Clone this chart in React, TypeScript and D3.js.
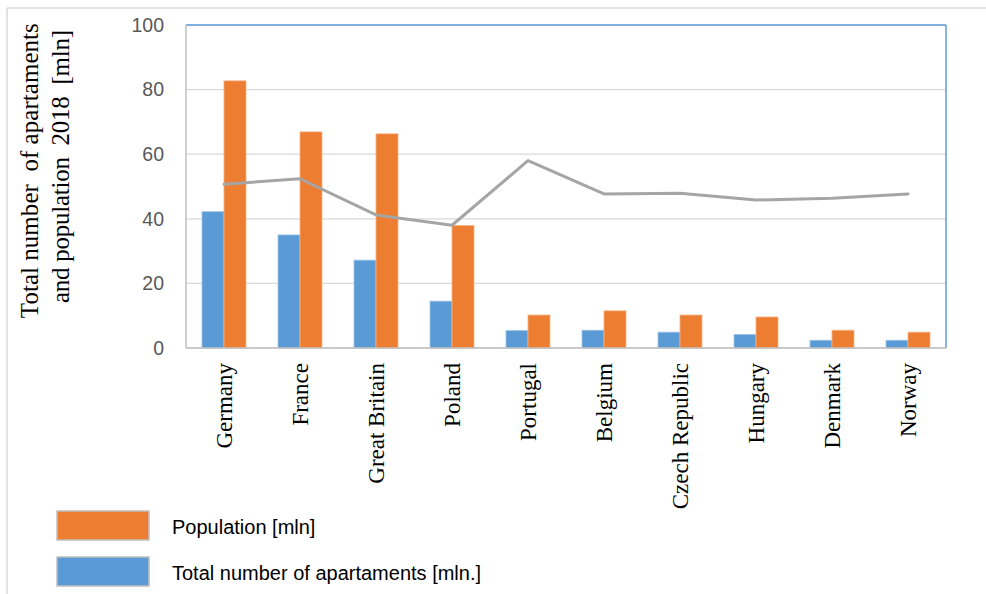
import React from "react";
import * as d3 from "d3";

const categories = ["Germany", "France", "Great Britain", "Poland", "Portugal", "Belgium", "Czech Republic", "Hungary", "Denmark", "Norway"];
const apartments = [42.2, 35.0, 27.2, 14.5, 5.4, 5.5, 4.9, 4.2, 2.4, 2.4];
const population = [82.7, 66.9, 66.3, 37.9, 10.2, 11.5, 10.2, 9.6, 5.5, 4.9];
const ratioLine = [50.7, 52.4, 41.2, 38.0, 58.0, 47.7, 47.9, 45.8, 46.4, 47.7];
const yTicks = [0, 20, 40, 60, 80, 100];
const seriesKeys = ["apartments", "population"];
const legendItems = [
  { label: "Population [mln]", color: "#ED7D31", stroke: "#BFBFBF" },
  { label: "Total number of apartaments [mln.]", color: "#5B9BD5", stroke: "#BFBFBF" },
];

const W = 986;
const H = 594;
const plot = { left: 186, right: 946, top: 25, bottom: 348 };

export default function App() {
  const x0 = d3
    .scaleBand<string>()
    .domain(categories)
    .range([plot.left, plot.right])
    .paddingInner(32 / 76)
    .paddingOuter(16 / 76);
  const x1 = d3.scaleBand<string>().domain(seriesKeys).range([0, x0.bandwidth()]);
  const y = d3.scaleLinear().domain([0, 100]).range([plot.bottom, plot.top]);
  const cx = (c: string) => (x0(c) as number) + x0.bandwidth() / 2;

  const line = d3
    .line<number>()
    .x((_, i) => cx(categories[i]))
    .y((d) => y(d));

  const serif = "'Liberation Serif', 'Times New Roman', serif";
  const sans = "'Liberation Sans', Arial, sans-serif";

  return (
    <svg width={W} height={H} style={{ position: "absolute", left: 0, top: 0, display: "block", background: "#fff" }}>
      {/* outer frame */}
      <line x1={7} y1={8} x2={W} y2={8} stroke="#D9D9D9" strokeWidth={1.5} />
      <line x1={7} y1={8} x2={7} y2={H} stroke="#D9D9D9" strokeWidth={1.5} />

      {/* gridlines */}
      {yTicks.map((t) => (
        <line key={"g" + t} x1={plot.left} x2={plot.right} y1={y(t)} y2={y(t)} stroke="#D9D9D9" strokeWidth={1.2} />
      ))}

      {/* bars */}
      {categories.map((c, i) => {
        const vals = [apartments[i], population[i]];
        const fills = ["#5B9BD5", "#ED7D31"];
        const strokes = ["#9DC3E6", "#F4B183"];
        return (
          <g key={c} transform={`translate(${x0(c)},0)`}>
            {seriesKeys.map((k, j) => (
              <rect
                key={k}
                x={x1(k) as number}
                y={y(vals[j])}
                width={x1.bandwidth()}
                height={y(0) - y(vals[j])}
                fill={fills[j]}
                stroke={strokes[j]}
                strokeWidth={0.8}
              />
            ))}
          </g>
        );
      })}

      {/* line */}
      <path d={line(ratioLine) as string} fill="none" stroke="#A5A5A5" strokeWidth={3} strokeLinejoin="round" strokeLinecap="round" />

      {/* plot borders */}
      <line x1={plot.left} x2={plot.right} y1={plot.top} y2={plot.top} stroke="#5B9BD5" strokeWidth={1.5} />
      <line x1={plot.right} x2={plot.right} y1={plot.top} y2={plot.bottom} stroke="#5B9BD5" strokeWidth={1.5} />
      <line x1={plot.left} x2={plot.left} y1={plot.top} y2={plot.bottom} stroke="#BFBFBF" strokeWidth={1.5} />
      <line x1={plot.left} x2={plot.right + 1} y1={plot.bottom} y2={plot.bottom} stroke="#BFBFBF" strokeWidth={1.5} />

      {/* y tick labels */}
      {yTicks.map((t) => (
        <text key={"t" + t} x={164} y={y(t)} dy="0.35em" textAnchor="end" fontFamily={sans} fontSize={19.5} fill="#595959">
          {t}
        </text>
      ))}

      {/* y axis title */}
      <g fontFamily={serif} fontSize={25} fill="#000">
        <text
          transform="translate(38,170.7) rotate(-90)"
          textAnchor="middle"
          textLength={295}
          lengthAdjust="spacing"
          style={{ whiteSpace: "pre" }}
        >
          Total number  of apartaments
        </text>
        <text
          transform="translate(69,166.5) rotate(-90)"
          textAnchor="middle"
          textLength={273}
          lengthAdjust="spacing"
          style={{ whiteSpace: "pre" }}
        >
          and population  2018  [mln]
        </text>
      </g>

      {/* x labels */}
      {categories.map((c) => (
        <text
          key={"x" + c}
          transform={`translate(${cx(c)},363) rotate(-90)`}
          textAnchor="end"
          dy="0.33em"
          fontFamily={serif}
          fontSize={23}
          fill="#000"
        >
          {c}
        </text>
      ))}

      {/* legend */}
      {legendItems.map((it, i) => (
        <g key={it.label} transform={`translate(0,${511 + i * 46})`}>
          <rect x={57} y={0} width={92} height={29} fill={it.color} stroke={it.stroke} strokeWidth={1.5} />
          <text x={172} y={23} fontFamily={sans} fontSize={20} fill="#000">
            {it.label}
          </text>
        </g>
      ))}
    </svg>
  );
}
